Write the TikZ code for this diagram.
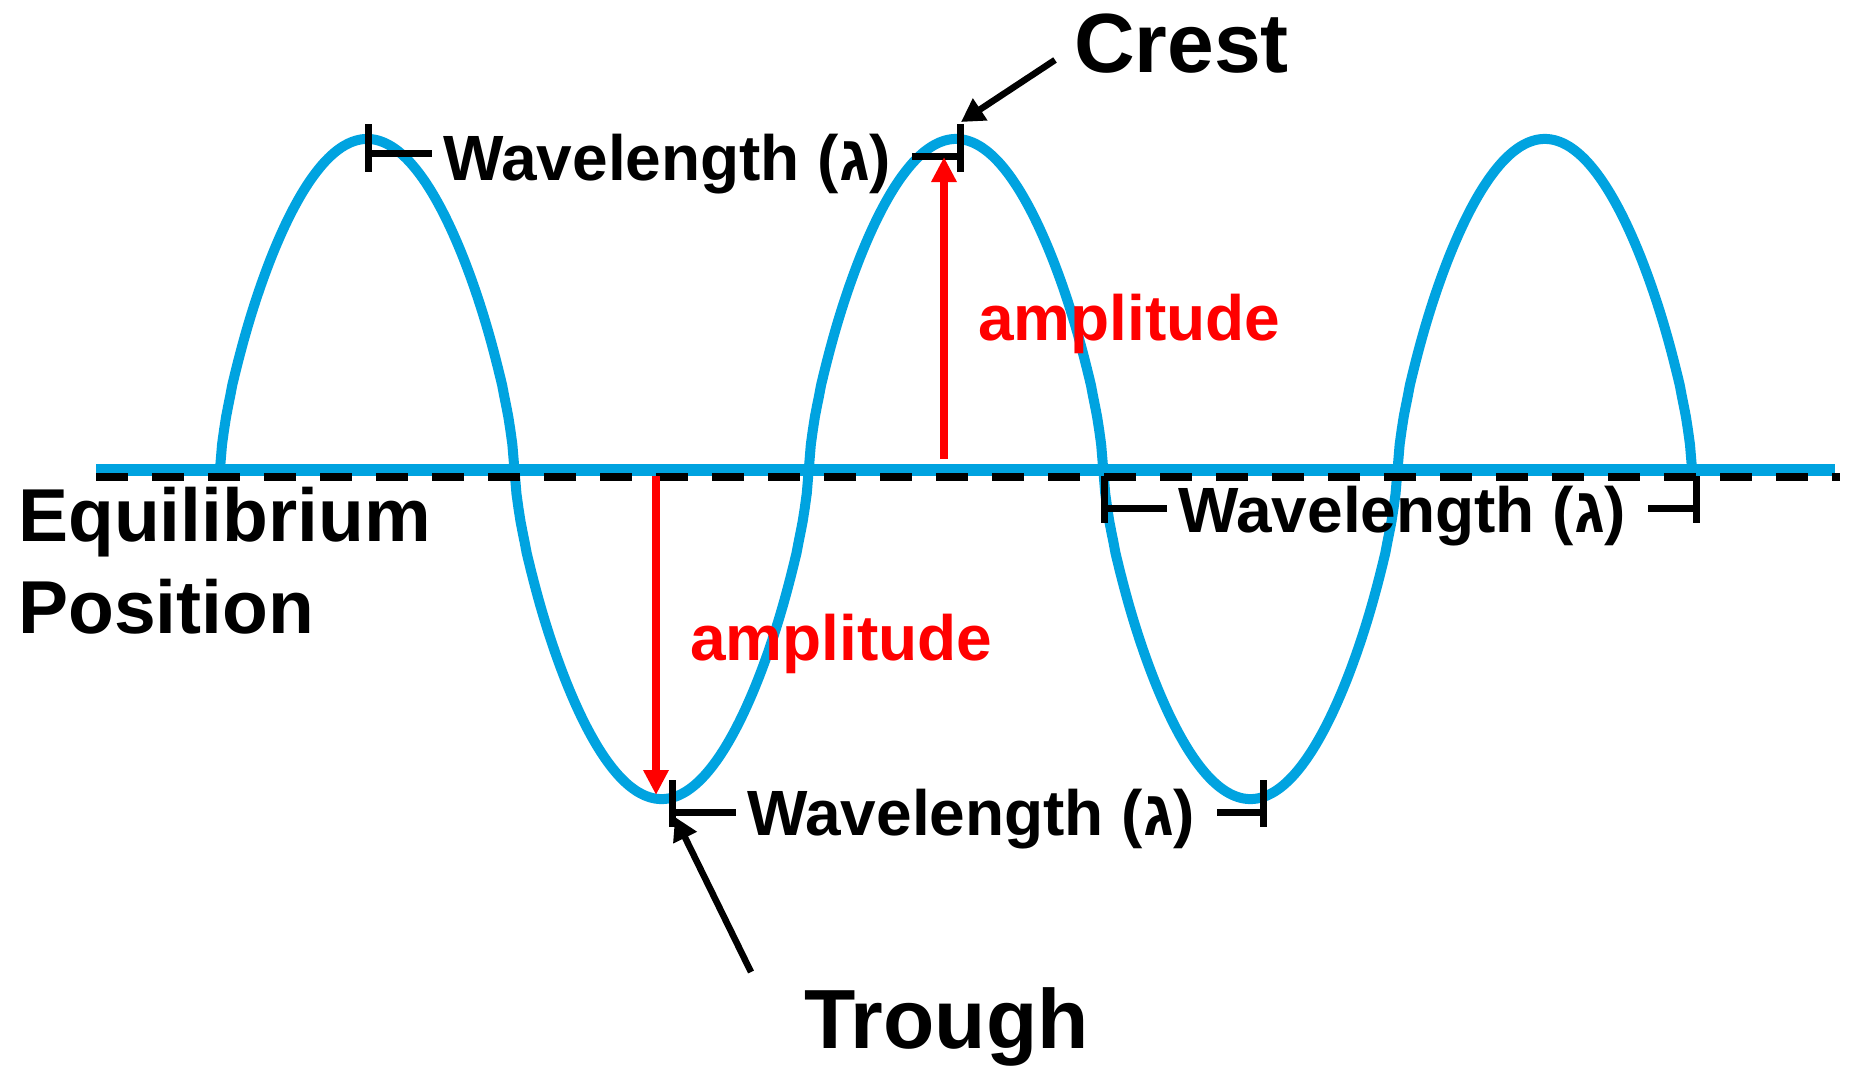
\documentclass[tikz,border=0pt]{standalone}
\usepackage{fontspec}
\setmainfont{Liberation Sans}
\usetikzlibrary{arrows.meta}
\definecolor{wavecol}{RGB}{0,163,224}
\definecolor{ampred}{RGB}{255,0,0}
\begin{document}
\begin{tikzpicture}[x=1pt,y=-1pt,
  lbl/.style={inner sep=0pt, anchor=base west, font=\bfseries\fontsize{64}{64}\selectfont},
  big/.style={inner sep=0pt, anchor=base west, font=\bfseries\fontsize{84}{84}\selectfont},
  eqlbl/.style={inner sep=0pt, anchor=base west, align=left, font=\bfseries\fontsize{75}{92}\selectfont},
  amplbl/.style={lbl, text=ampred},
  bracketline/.style={line width=7pt, black},
  amparrow/.style={line width=8pt, ampred, -{Triangle[length=25pt,width=24pt]}},
  pointer/.style={line width=6.5pt, black, -{Triangle[length=23pt,width=25pt]}},
  waveline/.style={line width=10pt, wavecol, line join=round},
  axisline/.style={line width=12pt, wavecol},
  eqdash/.style={line width=8pt, black, dash pattern=on 32pt off 24pt}]
\fill[white] (0,0) rectangle (1851,1066);
\useasboundingbox (0,0) rectangle (1851,1066);

% equilibrium axis
\coordinate (axL) at (96,470);
\coordinate (axR) at (1835,470);
\draw[axisline] (axL) -- (axR);

% wave
\draw[waveline] plot[variable=\t, domain=0:900, samples=721]
  ({220+\t/180*294.4}, {469-330*sign(sin(\t))*pow(abs(sin(\t))+0.0001,0.68)});

% dashed equilibrium line
\coordinate (dL) at (96,476.5);
\coordinate (dR) at (1840,476.5);
\draw[eqdash] (dL) -- (dR);

% labels
\node[big] (crest) at (1074,72) {Crest};
\node[big] (trough) at (804,1048) {Trough};
\node[eqlbl] (eq) at (18,633) {Equilibrium\\Position};
\node[lbl] (wlA) at (443,180) {Wavelength (ג)};
\node[lbl] (wlB) at (1178,532) {Wavelength (ג)};
\node[lbl] (wlC) at (747,835) {Wavelength (ג)};
\node[amplbl] (ampA) at (978,340) {amplitude};
\node[amplbl] (ampB) at (690,660) {amplitude};

% brackets: top
\coordinate (aL1) at (368,124); \coordinate (aL2) at (368,172);
\coordinate (aL3) at (368,153); \coordinate (aL4) at (432,153);
\coordinate (aR1) at (960,124); \coordinate (aR2) at (960,172);
\coordinate (aR3) at (912,156); \coordinate (aR4) at (960,156);
\draw[bracketline] (aL1) -- (aL2) (aL3) -- (aL4) (aR1) -- (aR2) (aR3) -- (aR4);
% brackets: middle right
\coordinate (bL1) at (1104,476); \coordinate (bL2) at (1104,523);
\coordinate (bL3) at (1104,508); \coordinate (bL4) at (1167,508);
\coordinate (bR1) at (1696,476); \coordinate (bR2) at (1696,523);
\coordinate (bR3) at (1648,508); \coordinate (bR4) at (1696,508);
\draw[bracketline] (bL1) -- (bL2) (bL3) -- (bL4) (bR1) -- (bR2) (bR3) -- (bR4);
% brackets: bottom
\coordinate (cL1) at (672,780); \coordinate (cL2) at (672,827);
\coordinate (cL3) at (672,812); \coordinate (cL4) at (736,812);
\coordinate (cR1) at (1263,780); \coordinate (cR2) at (1263,827);
\coordinate (cR3) at (1217,812); \coordinate (cR4) at (1263,812);
\draw[bracketline] (cL1) -- (cL2) (cL3) -- (cL4) (cR1) -- (cR2) (cR3) -- (cR4);

% pointer arrows
\coordinate (crestTail) at (1055,60);
\coordinate (crestTip) at (961,122);
\draw[pointer] (crestTail) -- (crestTip);
\coordinate (troughTail) at (751,972);
\coordinate (troughTip) at (675,817);
\draw[pointer] (troughTail) -- (troughTip);

% amplitude arrows
\coordinate (upBase) at (944,459);
\coordinate (upTip) at (944,157);
\draw[amparrow] (upBase) -- (upTip);
\coordinate (downBase) at (656,476);
\coordinate (downTip) at (656,795);
\draw[amparrow] (downBase) -- (downTip);
\end{tikzpicture}
\end{document}
